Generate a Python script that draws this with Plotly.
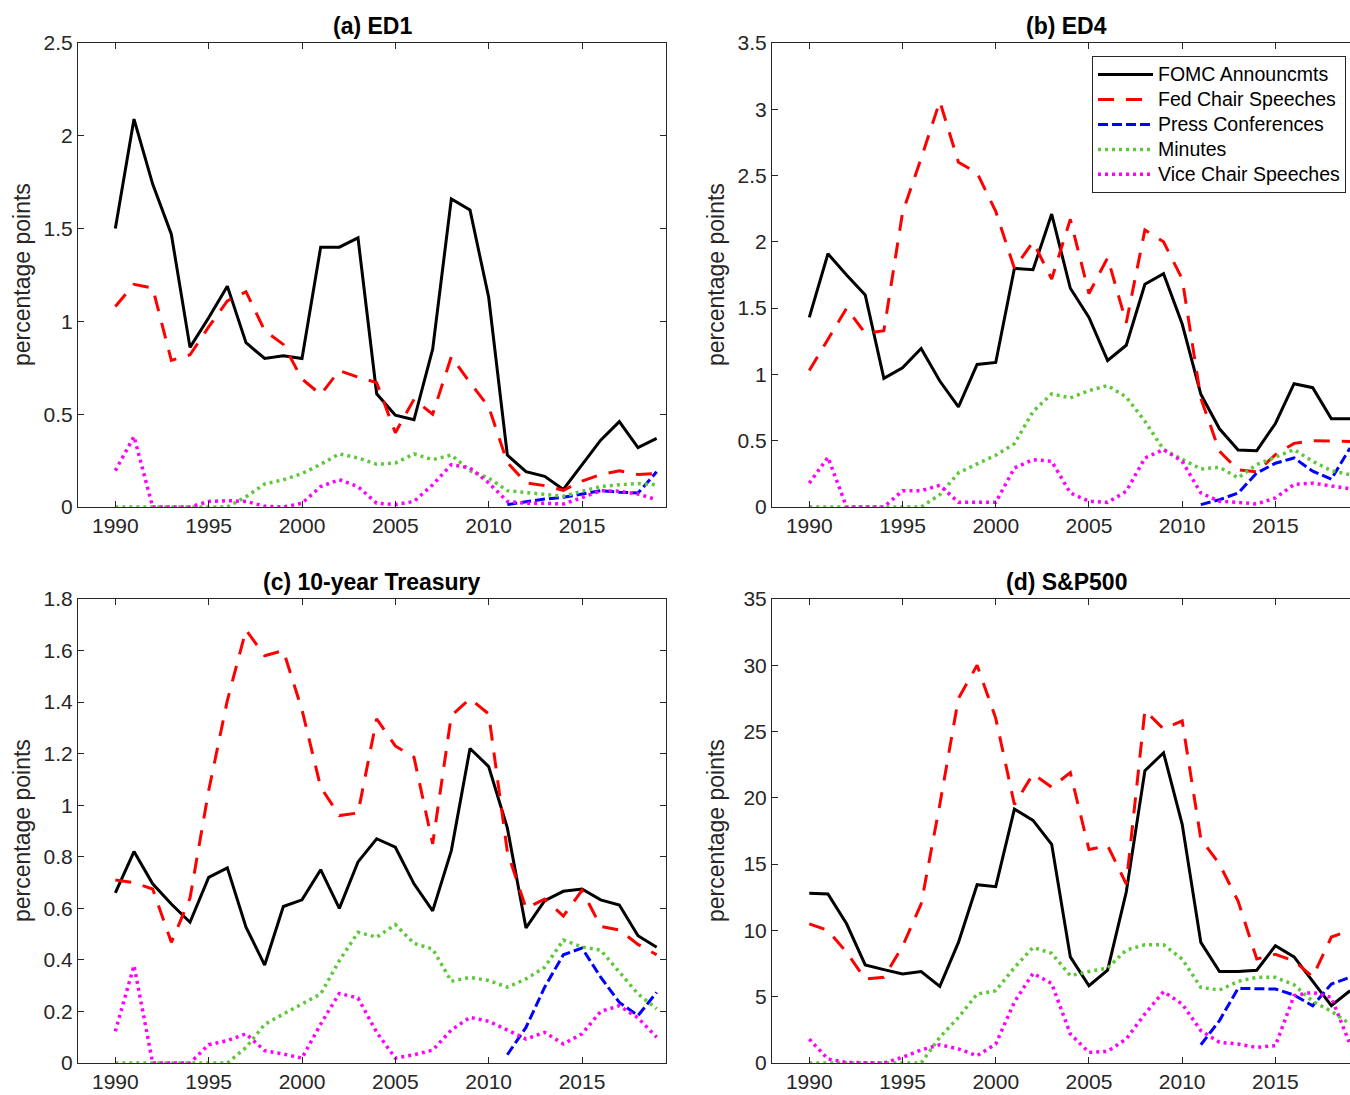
import plotly.graph_objects as go

years = list(range(1990, 2020))

series_names = ["FOMC Announcmts", "Fed Chair Speeches", "Press Conferences", "Minutes", "Vice Chair Speeches"]
panel_titles = ["(a) ED1", "(b) ED4", "(c) 10-year Treasury", "(d) S&P500"]
y_label = "percentage points"
x_ticks = [1990, 1995, 2000, 2005, 2010, 2015]

# (a) ED1
fomc_ed1 = [1.50, 2.09, 1.74, 1.47, 0.86, 1.02, 1.19, 0.885, 0.80, 0.815, 0.80, 1.40, 1.40, 1.45, 0.61,
            0.495, 0.47, 0.85, 1.66, 1.60, 1.13, 0.28, 0.19, 0.165, 0.095, 0.23, 0.36, 0.46, 0.32, 0.37]
chair_ed1 = [1.08, 1.20, 1.18, 0.79, 0.82, 0.97, 1.11, 1.16, 0.95, 0.876, 0.69, 0.606, 0.735, 0.70, 0.67,
             0.40, 0.58, 0.50, 0.81, 0.67, 0.54, 0.24, 0.13, 0.115, 0.09, 0.14, 0.175, 0.195, 0.175, 0.18]
press_ed1 = [None] * 21 + [0.013, 0.03, 0.043, 0.052, 0.07, 0.088, 0.08, 0.075, 0.19]
minutes_ed1 = [0, 0, 0, 0, 0, 0, 0, 0.055, 0.124, 0.147, 0.18, 0.23, 0.286, 0.264, 0.23,
               0.237, 0.286, 0.255, 0.28, 0.196, 0.156, 0.088, 0.079, 0.07, 0.058, 0.085, 0.11, 0.12, 0.126, 0.12]
vice_ed1 = [0.196, 0.38, 0, 0, 0, 0.03, 0.034, 0.03, 0.004, 0, 0.02, 0.11, 0.147, 0.11, 0.02,
            0.013, 0.03, 0.12, 0.228, 0.21, 0.13, 0.03, 0.02, 0.02, 0.016, 0.05, 0.088, 0.085, 0.07, 0.04]

# (b) ED4
fomc_ed4 = [1.43, 1.91, 1.75, 1.60, 0.97, 1.05, 1.195, 0.95, 0.755, 1.075, 1.09, 1.80, 1.79, 2.21, 1.65,
            1.43, 1.105, 1.22, 1.68, 1.76, 1.38, 0.85, 0.59, 0.43, 0.425, 0.63, 0.93, 0.90, 0.665, 0.665]
chair_ed4 = [1.03, 1.27, 1.50, 1.31, 1.33, 2.22, 2.63, 3.06, 2.60, 2.52, 2.23, 1.80, 2.0, 1.72, 2.17,
             1.61, 1.88, 1.39, 2.09, 2.0, 1.72, 0.82, 0.42, 0.28, 0.265, 0.395, 0.48, 0.50, 0.50, 0.495]
press_ed4 = [None] * 21 + [0.018, 0.055, 0.105, 0.257, 0.33, 0.37, 0.27, 0.21, 0.445]
minutes_ed4 = [0, 0, 0, 0, 0, 0, 0, 0.093, 0.257, 0.325, 0.39, 0.478, 0.72, 0.853, 0.823,
               0.878, 0.916, 0.83, 0.647, 0.433, 0.357, 0.287, 0.30, 0.22, 0.32, 0.38, 0.433, 0.345, 0.274, 0.244]
vice_ed4 = [0.18, 0.375, 0, 0, 0, 0.123, 0.123, 0.164, 0.035, 0.035, 0.035, 0.294, 0.357, 0.345, 0.106,
            0.043, 0.035, 0.118, 0.37, 0.433, 0.345, 0.106, 0.043, 0.035, 0.023, 0.068, 0.17, 0.18, 0.156, 0.138]

# (c) 10-year Treasury
fomc_10y = [0.66, 0.82, 0.695, 0.617, 0.546, 0.72, 0.757, 0.527, 0.38, 0.607, 0.633, 0.75, 0.60, 0.78, 0.87,
            0.837, 0.695, 0.59, 0.824, 1.22, 1.15, 0.912, 0.524, 0.63, 0.666, 0.675, 0.633, 0.613, 0.494, 0.449]
chair_10y = [0.71, 0.70, 0.675, 0.468, 0.64, 1.057, 1.406, 1.68, 1.58, 1.60, 1.37, 1.07, 0.96, 0.97, 1.335,
             1.23, 1.186, 0.85, 1.348, 1.413, 1.354, 0.82, 0.60, 0.636, 0.57, 0.67, 0.53, 0.516, 0.46, 0.42]
press_10y = [None] * 21 + [0.032, 0.138, 0.294, 0.42, 0.446, 0.333, 0.235, 0.184, 0.274]
minutes_10y = [0, 0, 0, 0, 0, 0, 0, 0.06, 0.15, 0.19, 0.23, 0.268, 0.397, 0.507, 0.488,
               0.537, 0.464, 0.442, 0.317, 0.332, 0.32, 0.294, 0.326, 0.371, 0.477, 0.45, 0.438, 0.352, 0.268, 0.21]
vice_10y = [0.123, 0.378, 0, 0, 0, 0.071, 0.087, 0.113, 0.048, 0.035, 0.019, 0.151, 0.27, 0.252, 0.119,
            0.019, 0.032, 0.05, 0.128, 0.177, 0.162, 0.128, 0.093, 0.119, 0.074, 0.113, 0.20, 0.222, 0.175, 0.10]

# (d) S&P500
fomc_sp = [12.8, 12.75, 10.5, 7.4, 7.04, 6.71, 6.9, 5.78, 9.1, 13.45, 13.3, 19.15, 18.3, 16.5, 8.0,
           5.83, 7.0, 12.9, 22.05, 23.4, 18.0, 9.1, 6.9, 6.9, 7.0, 8.85, 8.0, 6.16, 4.32, 5.45]
chair_sp = [10.5, 10.0, 8.35, 6.33, 6.46, 8.8, 12.0, 19.5, 27.5, 30.0, 26.0, 19.5, 21.8, 20.8, 21.9,
            16.1, 16.4, 13.5, 26.6, 25.2, 25.8, 16.9, 15.0, 12.2, 7.84, 8.2, 7.7, 6.5, 9.5, 10.0]
press_sp = [None] * 21 + [1.38, 3.2, 5.63, 5.63, 5.58, 5.13, 4.32, 5.96, 6.46]
minutes_sp = [0, 0, 0, 0, 0, 0, 0, 1.94, 3.44, 5.2, 5.45, 7.2, 8.72, 8.27, 6.59,
              6.9, 7.16, 8.52, 8.92, 8.92, 7.84, 5.7, 5.5, 6.16, 6.46, 6.46, 5.9, 4.65, 3.9, 2.94]
vice_sp = [1.8, 0.3, 0.05, 0, 0, 0.43, 0.98, 1.38, 1.06, 0.55, 1.43, 4.6, 6.76, 6.0, 2.19,
           0.8, 0.88, 1.81, 3.7, 5.38, 4.45, 2.44, 1.56, 1.43, 1.18, 1.31, 5.08, 5.33, 4.95, 1.43]

panels = [
    [fomc_ed1, chair_ed1, press_ed1, minutes_ed1, vice_ed1],
    [fomc_ed4, chair_ed4, press_ed4, minutes_ed4, vice_ed4],
    [fomc_10y, chair_10y, press_10y, minutes_10y, vice_10y],
    [fomc_sp, chair_sp, press_sp, minutes_sp, vice_sp],
]
y_ranges = [[0, 2.5], [0, 3.5], [0, 1.8], [0, 35]]
y_dticks = [0.5, 0.5, 0.2, 5]

styles = [
    dict(color="#000000", width=3, dash="solid"),
    dict(color="#FF0000", width=3, dash="16px,12px"),
    dict(color="#0000FF", width=3, dash="10px,4px"),
    dict(color="#5FC83A", width=3.5, dash="3px,4px"),
    dict(color="#FF00FF", width=3.5, dash="3px,4px"),
]

W, H = 1350, 1095
FONT = "Liberation Sans, Arial, Helvetica, sans-serif"
AX = "#262626"

# pixel boxes (left, right, top, bottom)
boxes = [(78, 666, 43, 507), (772, 1350, 43, 507), (78, 666, 599, 1063), (772, 1350, 599, 1063)]
x_ranges = [[1988, 2019.5], [1988, 2019.0], [1988, 2019.5], [1988, 2019.0]]

fig = go.Figure()
for p, data in enumerate(panels):
    sfx = "" if p == 0 else str(p + 1)
    for s, vals in enumerate(data):
        fig.add_trace(go.Scatter(
            x=years, y=vals, mode="lines",
            name='<span style="font-size:19.5px">' + series_names[s] + "</span>",
            line=styles[s], xaxis="x" + sfx, yaxis="y" + sfx,
            showlegend=(p == 1), legendgroup=series_names[s], connectgaps=False,
        ))

layout = dict(
    width=W, height=H, margin=dict(l=0, r=0, t=0, b=0, pad=0, autoexpand=False),
    paper_bgcolor="white", plot_bgcolor="white",
    font=dict(family=FONT, color=AX),
    showlegend=True,
    legend=dict(
        x=1092 / W, y=1 - 56 / H, xanchor="left", yanchor="top",
        bgcolor="white", bordercolor=AX, borderwidth=1,
        font=dict(family=FONT, size=16.9, color="#000000"),
        itemwidth=55, tracegroupgap=0,
    ),
)
annotations = []
for p in range(4):
    l, r, t, b = boxes[p]
    sfx = "" if p == 0 else str(p + 1)
    right_clip = r >= W
    layout["xaxis" + sfx] = dict(
        domain=[l / W, r / W], range=x_ranges[p], anchor="y" + sfx,
        tickvals=x_ticks, ticks="inside", ticklen=6, tickcolor=AX,
        showline=True, linecolor=AX, linewidth=1, mirror="ticks",
        showgrid=False, zeroline=False, automargin=False,
        tickfont=dict(family=FONT, size=21, color=AX),
    )
    layout["yaxis" + sfx] = dict(
        domain=[1 - b / H, 1 - t / H], range=y_ranges[p], anchor="x" + sfx,
        dtick=y_dticks[p], tick0=0, ticks="inside", ticklen=6, tickcolor=AX,
        showline=True, linecolor=AX, linewidth=1,
        mirror=False if right_clip else "ticks",
        showgrid=False, zeroline=False, automargin=False,
        tickfont=dict(family=FONT, size=21, color=AX),
    )
    cx = (l + (l + 588)) / 2
    annotations.append(dict(
        text="<b>" + panel_titles[p] + "</b>", x=cx / W, y=1 - (t - 17) / H,
        xref="paper", yref="paper", xanchor="center", yanchor="middle",
        showarrow=False, font=dict(family=FONT, size=23, color="#000000"),
    ))
    annotations.append(dict(
        text=y_label, x=(l - 56) / W, y=1 - ((t + b) / 2) / H,
        xref="paper", yref="paper", xanchor="center", yanchor="middle",
        textangle=-90, showarrow=False, font=dict(family=FONT, size=23, color=AX),
    ))
layout["annotations"] = annotations
fig.update_layout(**layout)

fig.write_html("out.html", config={"displayModeBar": False},
               post_script="document.body.style.margin='0';")
